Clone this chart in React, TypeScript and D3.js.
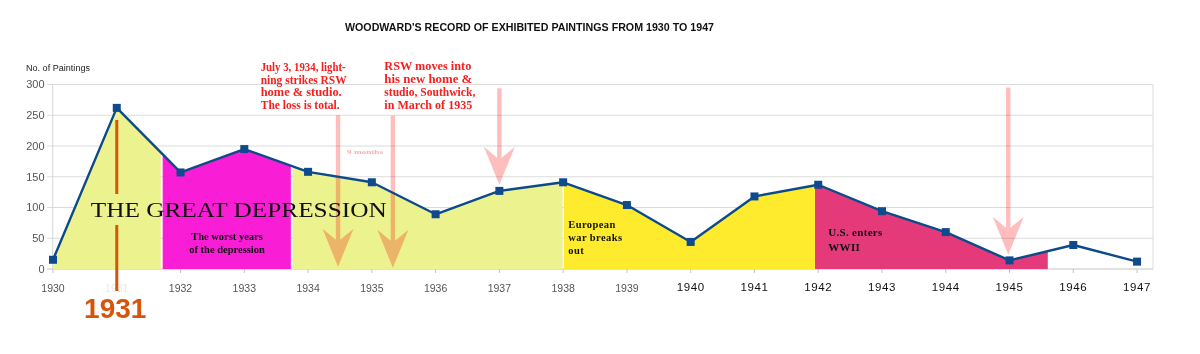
import React from "react";
import * as d3 from "d3";

const years = [1930, 1931, 1932, 1933, 1934, 1935, 1936, 1937, 1938, 1939, 1940, 1941, 1942, 1943, 1944, 1945, 1946, 1947];
const paintings = [15, 262, 157, 195, 158, 141, 89, 127, 141, 104, 44, 118, 137, 94, 60, 14, 39, 12];
const yTicks = [0, 50, 100, 150, 200, 250, 300];

const eraStart = [1930, 1931.72, 1933.76, 1938.01, 1941.95];
const eraEnd = [1931.69, 1933.73, 1937.99, 1941.95, 1945.6];
const eraColors = ["#ECF28D", "#F91DD6", "#ECF28D", "#FEEB2E", "#E43A7A"];

const arrowYears = [1934.47, 1935.33, 1937.0, 1944.98];
const arrowTops = [250, 249, 294, 295];
const arrowTips = [3.5, 2, 137, 23];

const title = "WOODWARD'S RECORD OF EXHIBITED PAINTINGS FROM 1930 TO 1947";
const yAxisTitle = "No.  of  Paintings";
const noteLightning = ["July 3, 1934, light-", "ning strikes RSW", "home  &  studio.", "The loss is total."];
const noteMove = ["RSW  moves  into", "his  new  home  &", "studio, Southwick,", "in  March  of  1935"];
const worstYears = ["The worst years", "of the depression"];
const europeanWar = ["European", "war breaks", "out"];
const usEnters = ["U.S. enters", "WWII"];

export default function App() {
  const W = 1200, H = 354;
  const x = d3.scaleLinear().domain([1930, 1947.25]).range([53, 1153]);
  const y = d3.scaleLinear().domain([0, 300]).range([269, 84.5]);

  const area = d3.area<number>()
    .x((_, i) => x(years[i]))
    .y0(y(0))
    .y1((d) => y(d));
  const line = d3.line<number>()
    .x((_, i) => x(years[i]))
    .y((d) => y(d));
  const areaPath = area(paintings) || "";
  const linePath = line(paintings) || "";

  const serif = "'Liberation Serif', 'DejaVu Serif', serif";
  const sans = "'Liberation Sans', Arial, sans-serif";

  const arrowPath = (i: number) => {
    const ax = x(arrowYears[i]);
    const top = y(arrowTops[i]);
    const tip = y(arrowTips[i]);
    const headLen = 38;
    const hw = 15.5;
    const notch = 12;
    const sw = 2.2;
    const cy = tip - headLen;
    return `M${ax - sw},${top} L${ax + sw},${top} L${ax + sw},${cy + notch - 1} L${ax + hw},${cy} L${ax},${tip} L${ax - hw},${cy} L${ax - sw},${cy + notch - 1} Z`;
  };

  const noteLW = [85, 86, 81, 79];
  const noteMW = [87, 88, 91, 88];
  const x1931 = x(1931);

  return (
    <svg width={W} height={H} style={{ position: "absolute", left: 0, top: 0, background: "#fff" }}>
      <rect x={0} y={0} width={W} height={H} fill="#fff" />
      <defs>
        {eraStart.map((s, i) => (
          <clipPath id={`era${i}`} key={i}>
            <rect x={x(s)} y={0} width={x(eraEnd[i]) - x(s)} height={y(0)} />
          </clipPath>
        ))}
      </defs>

      {/* title */}
      <text x={345} y={31} fontFamily={sans} fontWeight="bold" fontSize={10} textLength={369} lengthAdjust="spacingAndGlyphs" fill="#111">
        {title}
      </text>
      <text x={26} y={70.5} fontFamily={sans} fontSize={8.5} fill="#222" textLength={64} lengthAdjust="spacingAndGlyphs">
        {yAxisTitle}
      </text>

      {/* grid */}
      {yTicks.map((t) => (
        <g key={t}>
          <line x1={47} x2={1153} y1={y(t)} y2={y(t)} stroke={t === 0 ? "#C4C4C4" : "#DCDCDC"} strokeWidth={1} />
          <text x={44.5} y={y(t)} dy="0.35em" textAnchor="end" fontFamily={sans} fontSize={11} fill="#555">
            {t}
          </text>
        </g>
      ))}
      <line x1={52.7} x2={52.7} y1={y(300)} y2={y(0)} stroke="#D6D6D6" />
      <line x1={1153} x2={1153} y1={y(300)} y2={y(0)} stroke="#DCDCDC" />

      {/* x ticks */}
      {years.map((yr) => (
        <g key={yr}>
          <line x1={x(yr)} x2={x(yr)} y1={y(0)} y2={y(0) + 4} stroke="#C4C4C4" />
          {yr < 1940 ? (
            <text x={x(yr)} y={291.5} textAnchor="middle" fontFamily={sans} fontSize={10.5} fill={yr === 1931 ? "#EAEAEA" : "#555"}>
              {yr}
            </text>
          ) : (
            <text x={x(yr)} y={290.5} textAnchor="middle" fontFamily={sans} fontSize={11.5} fill="#111" letterSpacing={0.6}>
              {yr}
            </text>
          )}
        </g>
      ))}

      {/* era fills */}
      {eraStart.map((_, i) => (
        <path key={i} d={areaPath} fill={eraColors[i]} clipPath={`url(#era${i})`} />
      ))}

      {/* arrows */}
      {arrowYears.map((_, i) => (
        <path key={i} d={arrowPath(i)} fill="#FFBEBE" style={{ mixBlendMode: "multiply" }} />
      ))}
      <text x={347} y={153.5} fontFamily={serif} fontWeight="bold" fontSize={7} fill="#F4B0B0" textLength={36} lengthAdjust="spacingAndGlyphs">
        9 months
      </text>

      {/* 1931 marker line */}
      <line x1={x1931} x2={x1931} y1={120} y2={194} stroke="#D9540B" strokeWidth={3} />
      <line x1={x1931} x2={x1931} y1={225} y2={291} stroke="#D9540B" strokeWidth={3} />
      <text x={x1931 - 1.5} y={317.5} textAnchor="middle" fontFamily={sans} fontWeight="bold" fontSize={28} fill="#D9540B">
        1931
      </text>

      {/* data line + markers */}
      <path d={linePath} fill="none" stroke="#0D4A8A" strokeWidth={2.4} strokeLinejoin="round" />
      {paintings.map((v, i) => (
        <rect key={i} x={x(years[i]) - 4} y={y(v) - 4} width={8} height={8} fill="#0E4A8D" />
      ))}

      {/* texts */}
      <text x={90.7} y={216.7} fontFamily={serif} fontSize={21} fill="#111" textLength={296} lengthAdjust="spacingAndGlyphs">
        THE GREAT DEPRESSION
      </text>
      {worstYears.map((s, i) => (
        <text key={i} x={227} y={240 + i * 13.2} textAnchor="middle" fontFamily={serif} fontWeight="bold" fontSize={10.5} fill="#111">
          {s}
        </text>
      ))}
      {noteLightning.map((s, i) => (
        <text key={i} x={260.7} y={70.7 + i * 12.8} fontFamily={serif} fontWeight="bold" fontSize={11.5} fill="#F71E1E" textLength={noteLW[i]} lengthAdjust="spacingAndGlyphs">
          {s}
        </text>
      ))}
      {noteMove.map((s, i) => (
        <text key={i} x={384.3} y={70.2 + i * 12.8} fontFamily={serif} fontWeight="bold" fontSize={11.5} fill="#F71E1E" textLength={noteMW[i]} lengthAdjust="spacingAndGlyphs">
          {s}
        </text>
      ))}
      {europeanWar.map((s, i) => (
        <text key={i} x={568.3} y={228.3 + i * 13} fontFamily={serif} fontWeight="bold" fontSize={10.5} fill="#111" letterSpacing={0.4}>
          {s}
        </text>
      ))}
      {usEnters.map((s, i) => (
        <text key={i} x={828.3} y={236 + i * 14.8} fontFamily={serif} fontWeight="bold" fontSize={11} fill="#111" letterSpacing={0.3}>
          {s}
        </text>
      ))}
    </svg>
  );
}
